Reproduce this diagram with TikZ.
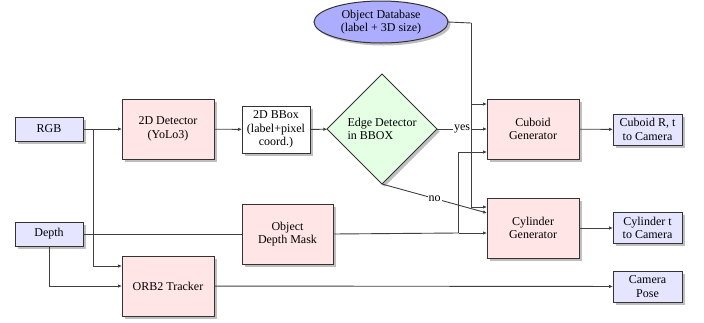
\documentclass[tikz,border=0pt]{standalone}
\usepackage{fontspec}
\setmainfont{Liberation Serif}
\usetikzlibrary{shapes.geometric,shadows,arrows.meta,calc}
\begin{document}
\begin{tikzpicture}[x=1pt,y=-1pt,
  font=\fontsize{12}{13.5}\selectfont,
  every node/.style={inner sep=0pt, outer sep=0pt},
  conn/.style={draw=black!75, line width=0.9pt},
  arr/.style={conn, -{Latex[length=4pt,width=3.5pt]}},
  bluebox/.style={draw=black!80, line width=1pt, fill=blue!10, drop shadow={shadow xshift=2.5pt, shadow yshift=-2.5pt}, align=center},
  pinkbox/.style={draw=black!80, line width=1pt, fill=red!10, drop shadow={shadow xshift=2.5pt, shadow yshift=-2.5pt}, align=center, minimum width=92pt, minimum height=60pt},
  whitebox/.style={draw=black!80, line width=1pt, fill=white, drop shadow={shadow xshift=2.5pt, shadow yshift=-2.5pt}, align=center, minimum width=68pt, minimum height=47pt},
  decision/.style={shape=diamond, aspect=1, draw=black!80, line width=1pt, fill=green!10, drop shadow={shadow xshift=2.5pt, shadow yshift=-2.5pt}, minimum width=110pt, minimum height=110pt, align=left},
  dbase/.style={shape=ellipse, draw=black!80, line width=1pt, fill=blue!32, drop shadow={shadow xshift=2.5pt, shadow yshift=-2.5pt}, minimum width=134pt, minimum height=42pt, align=center},
  lbl/.style={fill=white, inner sep=1pt}
]
\useasboundingbox (0,0) rectangle (704,322);

% nodes
\node[bluebox, minimum width=68pt, minimum height=24pt] (rgb) at (49,129) {RGB};
\node[bluebox, minimum width=68pt, minimum height=24pt] (depth) at (49,234) {Depth};
\node[pinkbox] (det) at (168,129) {2D Detector\\(YoLo3)};
\node[whitebox] (bbox) at (276,129.5) {2D BBox\\(label+pixel\\coord.)};
\node[decision] (edge) at (382,129) {Edge Detector\\in BBOX};
\node[dbase] (db) at (381,22) {Object Database\\(label + 3D size)};
\node[pinkbox] (orb) at (168,286) {ORB2 Tracker};
\node[pinkbox, minimum width=91pt] (mask) at (287.5,234) {Object\\Depth Mask};
\node[pinkbox] (cub) at (533,129) {Cuboid\\Generator};
\node[pinkbox] (cyl) at (533,228) {Cylinder\\Generator};
\node[bluebox, minimum width=69pt, minimum height=31pt] (cubout) at (647.5,129.5) {Cuboid R, t\\to Camera};
\node[bluebox, minimum width=69pt, minimum height=31pt] (cylout) at (647.5,228) {Cylinder t\\to Camera};
\node[bluebox, minimum width=69pt, minimum height=31pt] (cam) at (647.5,286.5) {Camera\\Pose};

% helper coordinates
\coordinate (rgbsplit) at (93,129);
\coordinate (dbx) at (471,23);
\coordinate (maskx) at (458.5,233);

% connectors
\draw[arr] (rgb) -- (det);
\draw[arr] (rgbsplit) |- ($(orb.west)+(0,-20)$);
\draw[arr] (depth.south) |- (orb.west);
\draw[arr] (det) -- (bbox);
\draw[arr] (bbox) -- (edge);
\draw[arr] (orb) -- (cam);

\draw[conn] (depth.east) -- (mask.west);
\draw[conn] (mask.east) -- (maskx);
\draw[arr] (maskx) |- ($(cub.west)+(0,23)$);
\draw[arr] (maskx) -- (cyl.west |- maskx);

\draw[arr] (edge.east) -- node[lbl] {yes} (cub.west);
\draw[arr] (edge.south) -- node[lbl] {no} ($(cyl.west)+(0,-15)$);

\draw[conn] (db.east) -- (dbx);
\draw[arr] (dbx) |- ($(cub.west)+(0,-25)$);
\draw[arr] (dbx) |- ($(cyl.west)+(0,-21)$);

\draw[arr] (cub) -- (cubout);
\draw[arr] (cyl) -- (cylout);
\end{tikzpicture}
\end{document}
